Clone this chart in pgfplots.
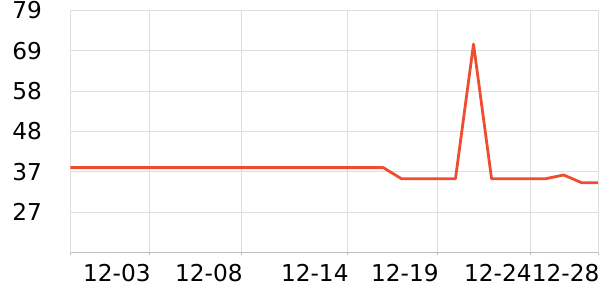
\documentclass[border=0pt]{standalone}
\usepackage{pgfplots}
\pgfplotsset{compat=1.18}
\usepackage{fontspec}
\setmainfont{DejaVu Sans}
\definecolor{linecol}{RGB}{238,78,48}
\definecolor{gridcol}{RGB}{222,222,222}
\definecolor{axiscol}{RGB}{190,190,190}
\begin{document}
\begin{tikzpicture}
\path[use as bounding box] (0,0) rectangle (600bp,300bp);
\begin{axis}[
  at={(70.3bp,47.3bp)}, anchor=south west,
  scale only axis, width=527.7bp, height=242.4bp,
  xmin=-1.35, xmax=27.9, ymin=16.6, ymax=79,
  axis x line=bottom, axis y line=left,
  axis line style={-, line width=0.8bp},
  x axis line style={draw=axiscol},
  y axis line style={draw=gridcol},
  xtick={3.03,8.13,14.0,18.99,24.15,27.9},
  xticklabels={12-03,12-08,12-14,12-19,12-24,12-28},
  extra x ticks={-1.35}, extra x tick labels={},
  extra x tick style={grid=none},
  ytick={27,37.4,47.8,58.2,68.6,79},
  yticklabels={27,37,48,58,69,79},
  xmajorgrids, ymajorgrids,
  grid style={draw=gridcol, line width=0.8bp},
  tick style={draw=axiscol, line width=0.8bp},
  major tick length=2.5bp,
  xtick align=outside, ytick style={draw=none},
  /pgf/number format/assume math mode=true,
  tick label style={font=\fontsize{23.3}{24}\selectfont, text=black},
  xticklabel style={anchor=north east, inner sep=0pt, yshift=-9bp, xshift=1.5bp},
  yticklabel style={anchor=east, inner sep=0pt, xshift=-27bp},
  clip=false,
]
\addplot[linecol, line width=2.8bp, line join=round] coordinates {
  (-1.35,38.5) (0,38.5) (1,38.5) (2,38.5) (3,38.5) (4,38.5) (5,38.5)
  (6,38.5) (7,38.5) (8,38.5) (9,38.5) (10,38.5) (11,38.5) (12,38.5)
  (13,38.5) (14,38.5) (15,38.5) (16,38.5) (17,35.65) (18,35.65)
  (19,35.65) (20,35.65) (21,70.3) (22,35.65) (23,35.65) (24,35.65)
  (25,35.65) (26,36.6) (27,34.6) (27.9,34.6)
};
\end{axis}
\end{tikzpicture}
\end{document}
